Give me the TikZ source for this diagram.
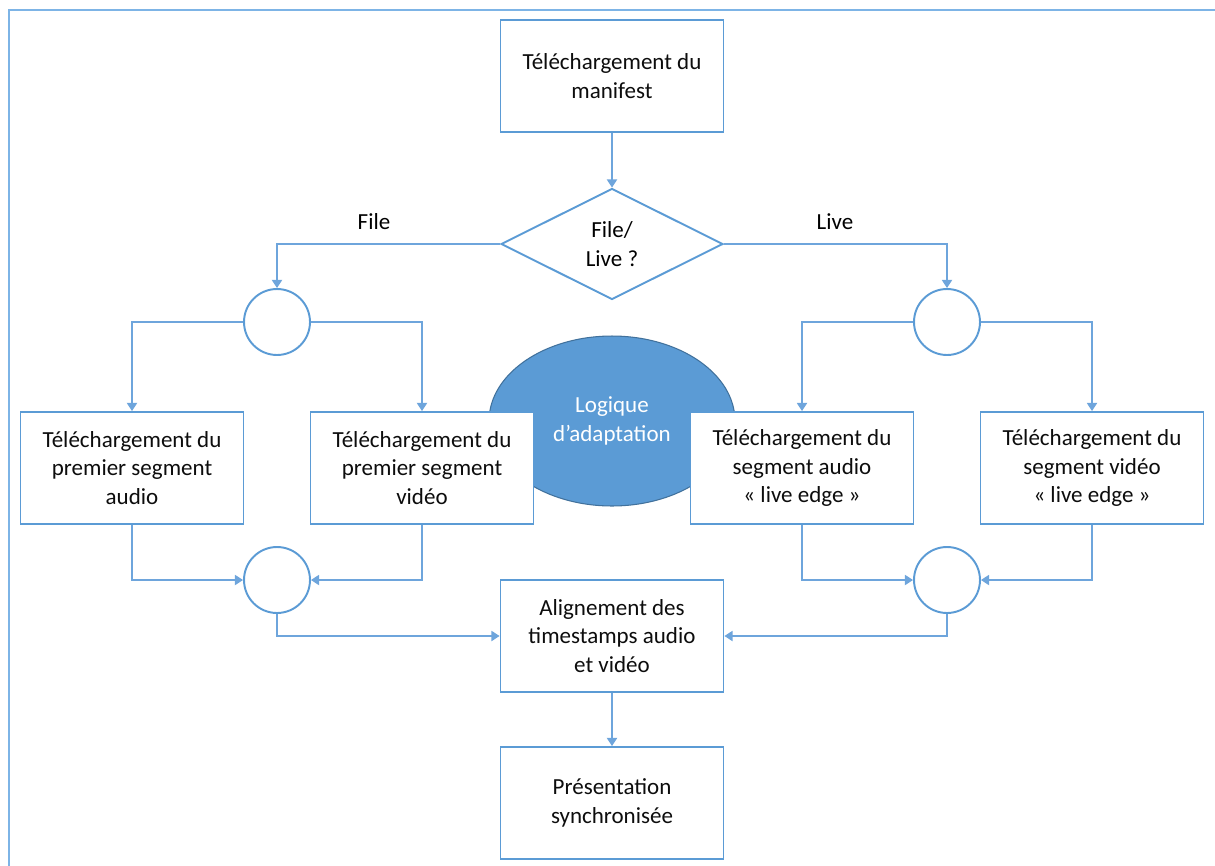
\documentclass[tikz,border=0pt]{standalone}
\usepackage{fontspec}
\setmainfont{Carlito}
\usetikzlibrary{shapes.geometric,arrows.meta}

\definecolor{boxblue}{RGB}{91,155,213}
\definecolor{linkblue}{RGB}{110,165,220}
\definecolor{frameblue}{RGB}{125,180,230}
\definecolor{logicedge}{RGB}{65,113,156}

\tikzset{
  box/.style={draw=boxblue, line width=1.1pt, fill=white, minimum width=4.46cm,
    minimum height=2.24cm, align=center, inner sep=0pt, text=black!95},
  junction/.style={circle, draw=boxblue, line width=1.1pt, fill=white,
    minimum size=1.32cm, inner sep=0pt},
  decision/.style={diamond, aspect=2, draw=boxblue, line width=1.1pt, fill=white,
    minimum width=4.44cm, minimum height=2.22cm, inner sep=0pt, align=center},
  logic/.style={ellipse, draw=logicedge, line width=0.6pt, fill=boxblue,
    minimum width=4.92cm, minimum height=3.4cm, align=center, text=white},
  link/.style={draw=linkblue, line width=0.7pt, -{Triangle[length=4.6pt,width=5.8pt]}},
}

\begin{document}
\begin{tikzpicture}[x=0.02cm, y=-0.02cm, font=\fontsize{13.1}{16.2}\selectfont]
\def\xa{132};
\def\xb{277};
\def\xc{422};
\def\xm{612};
\def\xd{802};
\def\xe{947};
\def\xf{1092};

\def\ya{76};
\def\yb{244};
\def\yc{322};
\def\yl{421};
\def\yd{468};
\def\ye{580};
\def\yf{636};
\def\yg{803};

\useasboundingbox (0,0) rectangle (1215,866);
\draw[frameblue, line width=1.2pt] (9,866) -- (9,10) -- (1215,10);

\node[logic] (logic) at (\xm, \yl) {Logique\\d’adaptation};

\node[box] (man) at (\xm, \ya) {Téléchargement du\\manifest};
\node[decision] (dec) at (\xm, \yb) {File/\\Live ?};

\node (file) at (374, 222) {File};
\node (live) at (835, 222) {Live};

\node[junction] (ja) at (\xb, \yc) {};
\node[junction] (jb) at (\xe, \yc) {};

\node[box] (fa) at (\xa, \yd) {Téléchargement du\\premier segment\\audio};
\node[box] (fv) at (\xc, \yd) {Téléchargement du\\premier segment\\vidéo};
\node[box] (la) at (\xd, \yd) {Téléchargement du\\segment audio\\« live edge »};
\node[box] (lv) at (\xf, \yd) {Téléchargement du\\segment vidéo\\« live edge »};

\node[junction] (jc) at (\xb, \ye) {};
\node[junction] (jd) at (\xe, \ye) {};

\node[box] (align) at (\xm, \yf) {Alignement des\\timestamps audio\\et vidéo};
\node[box] (pres) at (\xm, \yg) {Présentation\\synchronisée};

\draw[link] (man) -- (dec);
\draw[link] (dec.west) -| (ja.north);
\draw[link] (dec.east) -| (jb.north);

\draw[link] (ja.west) -| (fa.north);
\draw[link] (ja.east) -| (fv.north);
\draw[link] (jb.west) -| (la.north);
\draw[link] (jb.east) -| (lv.north);

\draw[link] (fa.south) |- (jc.west);
\draw[link] (fv.south) |- (jc.east);
\draw[link] (la.south) |- (jd.west);
\draw[link] (lv.south) |- (jd.east);

\draw[link] (jc.south) |- (align.west);
\draw[link] (jd.south) |- (align.east);
\draw[link] (align) -- (pres);

\end{tikzpicture}
\end{document}
